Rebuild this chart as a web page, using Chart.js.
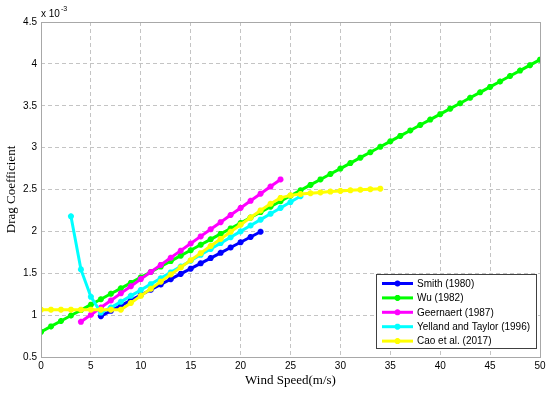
<!DOCTYPE html>
<html>
<head>
<meta charset="utf-8">
<script src="https://cdn.jsdelivr.net/npm/chart.js@4"></script>
<style>
  body { margin: 0; background: #fff; }
  #wrap { width: 550px; height: 393px; }
</style>
</head>
<body>
<div id="wrap"><canvas id="dragChart" width="550" height="393"></canvas></div>
<script>
// 시리즈 이름 / 색상
const seriesNames = ['Smith (1980)', 'Wu (1982)', 'Geernaert (1987)', 'Yelland and Taylor (1996)', 'Cao et al. (2017)'];
const seriesColors = ['#0000ff', '#00ff00', '#ff00ff', '#00ffff', '#ffff00'];

// 축 눈금
const xTicks = [0, 5, 10, 15, 20, 25, 30, 35, 40, 45, 50];
const yTicks = [0.5, 1, 1.5, 2, 2.5, 3, 3.5, 4, 4.5];

// Smith (1980)
const smithU = [6, 7, 8, 9, 10, 11, 12, 13, 14, 15, 16, 17, 18, 19, 20, 21, 22];
const smithCd = [0.988, 1.051, 1.114, 1.177, 1.240, 1.303, 1.366, 1.429, 1.492, 1.555, 1.618, 1.681, 1.744, 1.807, 1.870, 1.933, 1.996];

// Wu (1982)
const wuU = [0, 1, 2, 3, 4, 5, 6, 7, 8, 9, 10, 11, 12, 13, 14, 15, 16, 17, 18, 19, 20, 21, 22, 23, 24, 25,
  26, 27, 28, 29, 30, 31, 32, 33, 34, 35, 36, 37, 38, 39, 40, 41, 42, 43, 44, 45, 46, 47, 48, 49, 50];
const wuCd = [0.800, 0.865, 0.930, 0.995, 1.060, 1.125, 1.190, 1.255, 1.320, 1.385, 1.450, 1.515, 1.580,
  1.645, 1.710, 1.775, 1.840, 1.905, 1.970, 2.035, 2.100, 2.165, 2.230, 2.295, 2.360, 2.425, 2.490, 2.555,
  2.620, 2.685, 2.750, 2.815, 2.880, 2.945, 3.010, 3.075, 3.140, 3.205, 3.270, 3.335, 3.400, 3.465, 3.530,
  3.595, 3.660, 3.725, 3.790, 3.855, 3.920, 3.985, 4.050];

// Geernaert (1987)
const geerU = [4, 5, 6, 7, 8, 9, 10, 11, 12, 13, 14, 15, 16, 17, 18, 19, 20, 21, 22, 23, 24];
const geerCd = [0.920, 1.005, 1.090, 1.175, 1.260, 1.345, 1.430, 1.515, 1.600, 1.685, 1.770, 1.855, 1.940,
  2.025, 2.110, 2.195, 2.280, 2.365, 2.450, 2.535, 2.620];

// Yelland and Taylor (1996)
const yellU = [3, 4, 5, 6, 7, 8, 9, 10, 11, 12, 13, 14, 15, 16, 17, 18, 19, 20, 21, 22, 23, 24, 25, 26];
const yellCd = [2.180, 1.546, 1.218, 1.030, 1.090, 1.160, 1.230, 1.300, 1.370, 1.440, 1.510, 1.580, 1.650,
  1.720, 1.790, 1.860, 1.930, 2.000, 2.070, 2.140, 2.210, 2.280, 2.350, 2.420];

// Cao et al. (2017)
const caoU = [0, 1, 2, 3, 4, 5, 6, 7, 8, 9, 10, 11, 12, 13, 14, 15, 16, 17, 18, 19, 20, 21, 22, 23, 24,
  25, 26, 27, 28, 29, 30, 31, 32, 33, 34];
const caoCd = [1.065, 1.065, 1.065, 1.065, 1.065, 1.065, 1.065, 1.065, 1.065, 1.145, 1.230, 1.315, 1.400,
  1.485, 1.570, 1.655, 1.740, 1.825, 1.910, 1.995, 2.080, 2.165, 2.250, 2.330, 2.400, 2.430, 2.445, 2.455,
  2.465, 2.475, 2.483, 2.490, 2.497, 2.503, 2.510];

const seriesU = [smithU, wuU, geerU, yellU, caoU];
const seriesCd = [smithCd, wuCd, geerCd, yellCd, caoCd];

const toPoints = (xs, ys) => xs.map((x, i) => ({ x: x, y: ys[i] }));

const datasets = seriesNames.map((name, i) => ({
  label: name,
  data: toPoints(seriesU[i], seriesCd[i]),
  borderColor: seriesColors[i],
  backgroundColor: seriesColors[i],
  borderWidth: 3,
  pointStyle: 'star',
  pointRadius: 3,
  pointBorderWidth: 2,
  pointHoverRadius: 3,
  tension: 0,
  order: seriesNames.length - i, // 나중 시리즈가 위에
}));

const SERIF = '"Liberation Serif", "Times New Roman", serif';
const SANS = '"Liberation Sans", Arial, sans-serif';

// 축 박스, 제목, 범례 그리기
const matlabDecor = {
  id: 'matlabDecor',
  afterDatasetsDraw(chart) {
    const { ctx, chartArea: a } = chart;
    ctx.save();

    // 축 박스
    ctx.strokeStyle = '#a8a8a8';
    ctx.lineWidth = 1;
    ctx.strokeRect(Math.round(a.left) + 0.5, Math.round(a.top) + 0.5,
      Math.round(a.right - a.left), Math.round(a.bottom - a.top));

    // x 10^-3
    ctx.fillStyle = '#000';
    ctx.textBaseline = 'alphabetic';
    ctx.textAlign = 'left';
    ctx.font = '10px ' + SANS;
    ctx.fillText('x 10', a.left, 17);
    ctx.font = '7px ' + SANS;
    ctx.fillText('-3', a.left + 20, 11);

    // 축 제목
    ctx.font = '13px ' + SERIF;
    ctx.textAlign = 'center';
    ctx.textBaseline = 'middle';
    ctx.fillText('Wind Speed(m/s)', (a.left + a.right) / 2, 381);
    ctx.save();
    ctx.translate(12, (a.top + a.bottom) / 2);
    ctx.rotate(-Math.PI / 2);
    ctx.fillText('Drag Coefficient', 0, 0);
    ctx.restore();

    // 범례
    const bx = 376, by = 274, bw = 160, bh = 74;
    ctx.fillStyle = '#fff';
    ctx.fillRect(bx, by, bw, bh);
    ctx.strokeStyle = '#404040';
    ctx.lineWidth = 1;
    ctx.strokeRect(bx + 0.5, by + 0.5, bw, bh);
    ctx.font = '10px ' + SANS;
    ctx.textAlign = 'left';
    ctx.textBaseline = 'middle';
    chart.data.datasets.forEach((ds, i) => {
      const yy = by + 9.5 + i * 14.4;
      ctx.strokeStyle = ds.borderColor;
      ctx.lineWidth = ds.borderWidth;
      ctx.beginPath();
      ctx.moveTo(382, yy);
      ctx.lineTo(413, yy);
      ctx.stroke();
      ctx.fillStyle = ds.backgroundColor;
      ctx.lineWidth = 2;
      Chart.helpers.drawPoint(ctx, { pointStyle: 'star', radius: 3, borderWidth: 2, rotation: 0 }, 397.5, yy);
      ctx.fillStyle = '#000';
      ctx.fillText(ds.label, 417, yy + 0.5);
    });

    ctx.restore();
  },
};

new Chart(document.getElementById('dragChart'), {
  type: 'line',
  data: { datasets: datasets },
  options: {
    responsive: false,
    animation: false,
    layout: { padding: { top: 22, right: 10, left: 0, bottom: 0 } },
    plugins: {
      legend: { display: false },
      tooltip: { enabled: false },
    },
    scales: {
      x: {
        type: 'linear',
        min: 0,
        max: 50,
        afterFit: (scale) => { scale.height = 36; },
        afterBuildTicks: (scale) => { scale.ticks = xTicks.map((v) => ({ value: v })); },
        ticks: {
          color: '#000',
          font: { family: SANS, size: 10 },
          padding: 3,
          maxRotation: 0,
        },
        grid: { color: '#c4c4c4', lineWidth: 1, drawTicks: false },
        border: { display: false, dash: [4, 3] },
      },
      y: {
        type: 'linear',
        min: 0.5,
        max: 4.5,
        afterFit: (scale) => { scale.width = 41; },
        afterBuildTicks: (scale) => { scale.ticks = yTicks.map((v) => ({ value: v })); },
        ticks: {
          color: '#000',
          font: { family: SANS, size: 10 },
          padding: 4,
          callback: (v) => String(v),
        },
        grid: { color: '#c4c4c4', lineWidth: 1, drawTicks: false },
        border: { display: false, dash: [4, 3] },
      },
    },
  },
  plugins: [matlabDecor],
});
</script>
</body>
</html>
